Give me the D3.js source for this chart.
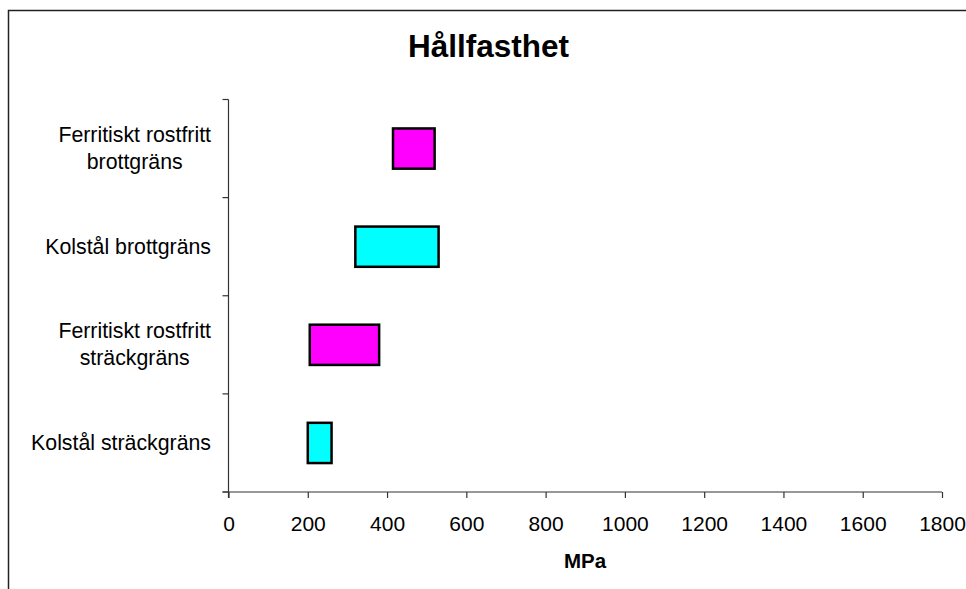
<!DOCTYPE html>
<html>
<head>
<meta charset="utf-8">
<script src="https://cdn.jsdelivr.net/npm/d3@7"></script>
<style>
  html, body { margin: 0; padding: 0; background: #fff; overflow: hidden; }
  svg { display: block; font-family: Arial, "Liberation Sans", sans-serif; }
</style>
</head>
<body>
<svg id="chart" width="966" height="589"></svg>
<script>
// Data (bottom to top)
const categories = [
  ["Kolstål sträckgräns"],
  ["Ferritiskt rostfritt", "sträckgräns"],
  ["Kolstål brottgräns"],
  ["Ferritiskt rostfritt", "brottgräns"]
];
const lowValues = [200, 205, 320, 415];
const highValues = [260, 380, 530, 520];
const barColors = ["#00FFFF", "#FF00FF", "#00FFFF", "#FF00FF"];
const xTicks = [0, 200, 400, 600, 800, 1000, 1200, 1400, 1600, 1800];

const svg = d3.select("#chart");

// outer frame (right and bottom edges fall outside the picture)
svg.append("rect")
  .attr("x", 8.5).attr("y", 10.5)
  .attr("width", 1000).attr("height", 1000)
  .attr("fill", "#fff")
  .attr("stroke", "#222")
  .attr("stroke-width", 1.5);

const plotLeft = 228.5, plotRight = 942, plotTop = 99.5, plotBottom = 492;

const x = d3.scaleLinear().domain([0, 1800]).range([plotLeft, plotRight]);
const y = d3.scaleBand()
  .domain(categories.map((d, i) => i))
  .range([plotBottom, plotTop])
  .paddingInner(0.59)
  .paddingOuter(0.295);

const step = y.step();

// bars
svg.selectAll("rect.bar")
  .data(categories)
  .enter()
  .append("rect")
  .attr("class", "bar")
  .attr("x", (d, i) => x(lowValues[i]))
  .attr("y", (d, i) => y(i))
  .attr("width", (d, i) => x(highValues[i]) - x(lowValues[i]))
  .attr("height", y.bandwidth())
  .attr("fill", (d, i) => barColors[i])
  .attr("stroke", "#000")
  .attr("stroke-width", 2.5);

// y axis line and ticks at category boundaries
const axisColor = "#333";
svg.append("line")
  .attr("x1", plotLeft).attr("x2", plotLeft)
  .attr("y1", plotTop).attr("y2", plotBottom + 6)
  .attr("stroke", axisColor).attr("stroke-width", 1.2);

const boundaries = d3.range(categories.length + 1).map(i => plotBottom - i * step);
svg.selectAll("line.ytick")
  .data(boundaries)
  .enter()
  .append("line")
  .attr("class", "ytick")
  .attr("x1", plotLeft - 6).attr("x2", plotLeft)
  .attr("y1", d => d).attr("y2", d => d)
  .attr("stroke", axisColor).attr("stroke-width", 1.2);

// x axis
const xAxis = d3.axisBottom(x)
  .tickValues(xTicks)
  .tickFormat(d3.format("d"))
  .tickSize(6)
  .tickSizeOuter(0)
  .tickPadding(18);

const gx = svg.append("g")
  .attr("transform", `translate(0,${plotBottom})`)
  .call(xAxis);
gx.select(".domain").attr("stroke", axisColor).attr("stroke-width", 1.2)
  .attr("d", `M${plotLeft - 6},0H${plotRight}`);
gx.selectAll(".tick line").attr("stroke", axisColor).attr("stroke-width", 1.2);
gx.selectAll(".tick text")
  .attr("font-size", 21)
  .attr("fill", "#000")
  .attr("font-family", "Arial, 'Liberation Sans', sans-serif");

// category labels
const labelRight = 211;
const lineH = 26.7;
categories.forEach((lines, i) => {
  const cy = y(i) + y.bandwidth() / 2;
  const g = svg.append("text")
    .attr("font-size", 21.3)
    .attr("fill", "#000")
    .attr("text-anchor", "middle");
  const tspans = lines.map((t, k) => g.append("tspan")
    .attr("y", cy + 7 - (lines.length - 1) * lineH / 2 + k * lineH)
    .text(t));
  const maxW = d3.max(tspans, s => s.node().getComputedTextLength());
  tspans.forEach(s => s.attr("x", labelRight - maxW / 2));
});

// title
svg.append("text")
  .attr("x", 488.5).attr("y", 57)
  .attr("text-anchor", "middle")
  .attr("font-size", 31.5)
  .attr("font-weight", "bold")
  .text("Hållfasthet");

// x axis title
svg.append("text")
  .attr("x", 585).attr("y", 568)
  .attr("text-anchor", "middle")
  .attr("font-size", 20.5)
  .attr("font-weight", "bold")
  .text("MPa");
</script>
</body>
</html>
